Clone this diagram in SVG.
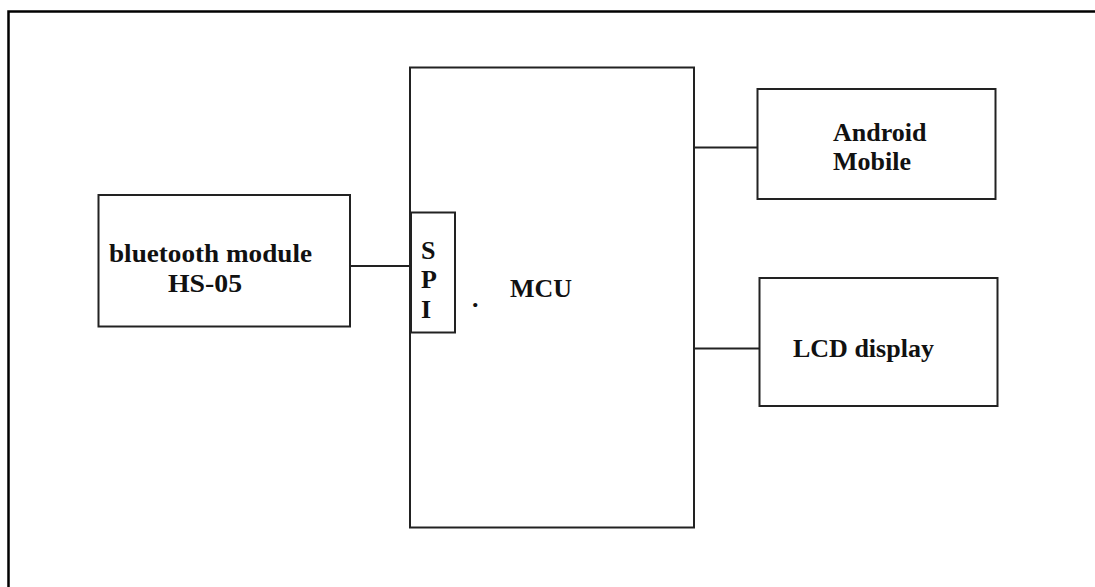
<svg xmlns="http://www.w3.org/2000/svg" width="1095" height="587" viewBox="0 0 1095 587">
<style>
.box{fill:#fff;stroke:#222;stroke-width:2}
.frame{fill:none;stroke:#000;stroke-width:2.5}
.wire{fill:none;stroke:#222;stroke-width:2}
.lbl{font-family:"Liberation Serif","Times New Roman",serif;font-weight:bold;font-size:26px;fill:#111}
</style>
<rect width="1095" height="587" fill="#fff"/>
<rect class="frame" x="8.5" y="11.5" width="1100" height="590"/>
<g id="connectors">
<line class="wire" x1="350" y1="266" x2="411" y2="266"/>
<line class="wire" x1="694" y1="147.5" x2="760" y2="147.5"/>
<line class="wire" x1="694" y1="348.5" x2="759" y2="348.5"/>
</g>
<g id="mcu">
<rect class="box" x="410" y="67.5" width="284" height="460"/>
<text class="lbl" x="510" y="297" textLength="62" lengthAdjust="spacingAndGlyphs">MCU</text>
<text class="lbl" x="472" y="307">.</text>
</g>
<g id="spi">
<rect class="box" x="411" y="212.5" width="44" height="120"/>
<text class="lbl" x="421" y="259">S</text>
<text class="lbl" x="421" y="288">P</text>
<text class="lbl" x="421" y="318">I</text>
</g>
<g id="bluetooth">
<rect class="box" x="98.5" y="195" width="251.5" height="131.5"/>
<text class="lbl" x="109" y="262" textLength="203" lengthAdjust="spacingAndGlyphs">bluetooth module</text>
<text class="lbl" x="168" y="292" textLength="74" lengthAdjust="spacingAndGlyphs">HS-05</text>
</g>
<g id="android">
<rect class="box" x="757.5" y="89" width="238" height="110"/>
<text class="lbl" x="833" y="141">Android</text>
<text class="lbl" x="833" y="170">Mobile</text>
</g>
<g id="lcd">
<rect class="box" x="759.5" y="278" width="238" height="128"/>
<text class="lbl" x="793" y="357">LCD display</text>
</g>
</svg>
